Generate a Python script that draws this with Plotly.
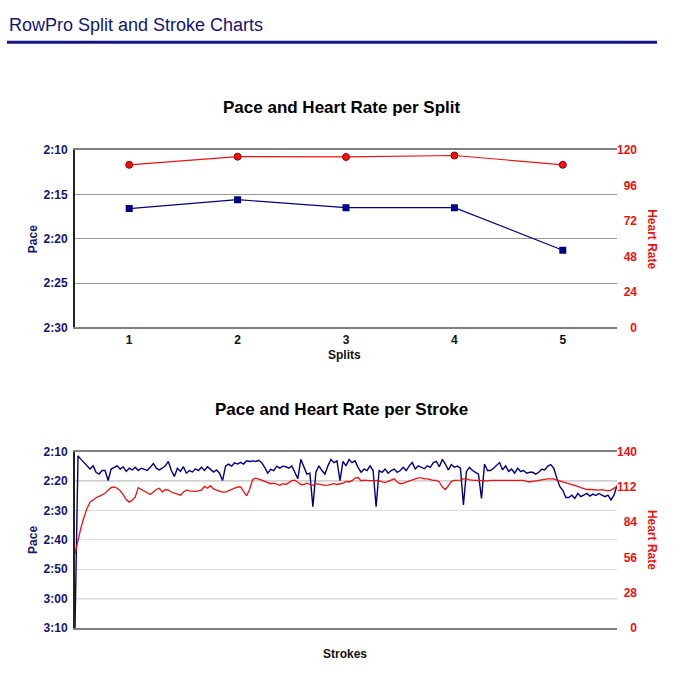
import plotly.graph_objects as go

# ---------------- data ----------------
splits = [1, 2, 3, 4, 5]
split_pace = [136.6, 135.6, 136.5, 136.5, 141.3]      # seconds per 500m
split_hr = [110, 115.5, 115.3, 116.3, 110]

pace_ticks_top = [130, 135, 140, 145, 150]
pace_labels_top = ["2:10", "2:15", "2:20", "2:25", "2:30"]
hr_ticks_top = [0, 24, 48, 72, 96, 120]

stroke_pace = [
    190, 131.4, 132.6, 133.7, 134.8, 135.9, 134.8, 137.0, 137.6, 136.4,
    136.4, 139.8, 135.9, 135.3, 134.8, 135.9, 135.1, 136.7, 135.6, 136.2,
    135.3, 136.4, 135.6, 136.0, 136.4, 135.3, 134.0, 135.6, 136.2, 135.6,
    134.8, 133.3, 136.4, 138.4, 135.6, 136.7, 135.1, 137.3, 136.4, 136.9,
    135.8, 136.4, 135.3, 136.4, 135.1, 136.0, 136.9, 136.2, 137.3, 139.8,
    134.9, 134.2, 134.9, 133.8, 134.2, 133.6, 134.2, 133.1, 133.3, 133.1,
    133.3, 132.9, 133.7, 135.3, 137.3, 136.0, 136.4, 134.9, 135.6, 134.9,
    135.1, 135.6, 134.8, 137.0, 139.2, 132.6, 135.3, 137.6, 137.3, 148.7,
    137.0, 134.8, 136.4, 137.6, 134.8, 132.6, 133.7, 133.1, 139.8, 133.3,
    134.8, 132.6, 133.7, 133.1, 135.3, 137.0, 135.9, 136.4, 134.8, 136.4,
    148.7, 136.4, 137.0, 135.9, 137.3, 136.4, 135.9, 137.0, 136.4, 135.3,
    136.4, 134.8, 133.7, 135.9, 134.8, 135.3, 135.8, 134.8, 135.3, 133.7,
    133.3, 135.1, 132.6, 134.2, 136.2, 134.4, 135.3, 134.9, 135.6, 148.1,
    136.7, 135.3, 136.4, 137.0, 137.6, 145.9, 134.2, 136.4, 136.4, 135.6,
    134.8, 133.7, 136.2, 134.8, 136.7, 135.9, 137.3, 135.6, 136.7, 136.4,
    137.3, 137.0, 137.0, 137.6, 137.0, 136.0, 136.2, 134.9, 134.4, 135.6,
    138.9, 141.8, 143.1, 145.6, 145.6, 144.8, 145.9, 144.2, 145.3, 144.8,
    144.2, 145.1, 144.4, 144.9, 144.2, 144.8, 145.3, 144.8, 146.4, 144.8,
    141.5,
]
stroke_hr = [
    59, 70, 80, 88, 95, 100, 102, 103.5, 104.5, 105.5,
    107, 109.5, 111.5, 112, 111, 109, 106, 102, 100, 101.5,
    104, 111.5, 110, 109, 107.5, 106, 108, 110, 111, 108,
    110, 109.5, 108, 107, 106, 105.5, 108, 109.5, 109, 108.5,
    108.5, 109, 109.5, 112.5, 111, 113, 110.5, 109.5, 108.5, 108,
    108, 109, 109.5, 111, 112, 112, 108, 105, 110, 118,
    119, 118.5, 117.5, 116.5, 115.5, 114.6, 115, 114, 113.3, 114.6,
    114, 115.5, 117, 117.5, 115.5, 114, 114, 115, 114, 113.3,
    114.6, 114, 113.5, 113.3, 113.5, 114.2, 114.6, 114, 114.6, 115,
    116.5, 116, 117, 119, 119.5, 117, 117.5, 117, 117, 117,
    117, 117, 116, 115.5, 116.5, 117.5, 118.5, 116, 114.6, 115,
    115.9, 117, 118, 119, 119.3, 119.3, 118.5, 118.5, 117.7, 117.2,
    117.2, 116, 112, 110, 113, 116.5, 117.2, 117.2, 117.5, 118.5,
    118.5, 117.7, 117.2, 117.2, 117.2, 117, 116.8, 116.8, 117.2, 117.2,
    117.2, 117.2, 117.2, 117.2, 117.2, 117.2, 117.2, 117.7, 117.2, 117.2,
    116.5, 116, 116.5, 117, 117.2, 117.5, 118, 118.5, 118.5, 118.5,
    117.5, 116.8, 116, 115.5, 115.1, 114.5, 113.3, 112.5, 111.5, 110.7,
    110, 110, 109.9, 109.5, 109.5, 109.9, 109.5, 108.9, 109.5, 111,
    112.5,
]
strokes = list(range(len(stroke_pace)))

pace_ticks_bottom = [130, 140, 150, 160, 170, 180, 190]
pace_labels_bottom = ["2:10", "2:20", "2:30", "2:40", "2:50", "3:00", "3:10"]
hr_ticks_bottom = [0, 28, 56, 84, 112, 140]
dark_grid_bottom = [140, 180]

# ---------------- style ----------------
W, H = 680, 686
NAVY = "#000080"
NAVY_TXT = "#14146e"
RED = "#ee1111"
FONT = "Liberation Sans, Arial, Helvetica, sans-serif"
FIG_SPACE = "\u2007"

def px_x(px):
    return px / W

def px_y(px):
    return 1 - px / H

def right_labels(vals):
    # right-align the labels by padding with figure spaces (digit width)
    return [str(v).rjust(3, FIG_SPACE) for v in vals]

xdom = [px_x(75), px_x(617)]
ydom_top = [px_y(327), px_y(146)]
ydom_bot = [px_y(634), px_y(454)]

fig = go.Figure()
fig.add_trace(go.Scatter(
    x=splits, y=split_pace, xaxis="x", yaxis="y", mode="lines+markers",
    line=dict(color=NAVY, width=1.2),
    marker=dict(symbol="square", size=7, color=NAVY)))
fig.add_trace(go.Scatter(
    x=splits, y=split_hr, xaxis="x", yaxis="y2", mode="lines+markers",
    line=dict(color=RED, width=1.2),
    marker=dict(symbol="circle", size=7, color=RED, line=dict(color="#990000", width=1))))
fig.add_trace(go.Scatter(
    x=strokes, y=stroke_pace, xaxis="x2", yaxis="y3", mode="lines",
    line=dict(color=NAVY, width=1.4)))
fig.add_trace(go.Scatter(
    x=strokes, y=stroke_hr, xaxis="x2", yaxis="y4", mode="lines",
    line=dict(color=RED, width=1.3)))

left_font = dict(family=FONT, size=12, color=NAVY_TXT, weight="bold")
right_font = dict(family=FONT, size=12, color=RED, weight="bold")

fig.update_layout(
    width=W, height=H, margin=dict(l=0, r=0, t=0, b=0),
    paper_bgcolor="white", plot_bgcolor="white", showlegend=False,
    font=dict(family=FONT),
    xaxis=dict(domain=xdom, anchor="y", range=[0.5, 5.5], tickvals=splits,
               showgrid=False, zeroline=False, showline=True, mirror=True,
               linecolor="#808080", linewidth=2, ticks="", ticklabelstandoff=0,
               tickfont=dict(family=FONT, size=12, color="#111111", weight="bold")),
    yaxis=dict(domain=ydom_top, anchor="x", range=[150, 130], tickvals=pace_ticks_top,
               ticktext=pace_labels_top, gridcolor="#999999", gridwidth=1, zeroline=False,
               showline=True, linecolor="#222222", linewidth=2, ticks="",
               ticklabelstandoff=3, tickfont=left_font),
    yaxis2=dict(overlaying="y", side="right", anchor="x", range=[0, 120],
                tickvals=hr_ticks_top, ticktext=right_labels(hr_ticks_top),
                showgrid=False, zeroline=False, showline=False,
                ticks="", ticklabelstandoff=-1, tickfont=right_font),
    xaxis2=dict(domain=xdom, anchor="y3", range=[0, len(stroke_pace) - 1],
                showticklabels=False, showgrid=False, zeroline=False, showline=True,
                mirror=True, linecolor="#808080", linewidth=2, ticks=""),
    yaxis3=dict(domain=ydom_bot, anchor="x2", range=[190, 130], tickvals=pace_ticks_bottom,
                ticktext=pace_labels_bottom, gridcolor="#dddddd", gridwidth=1, zeroline=False,
                showline=True, linecolor="#222222", linewidth=2, ticks="",
                ticklabelstandoff=3, tickfont=left_font),
    yaxis4=dict(overlaying="y3", side="right", anchor="x2", range=[0, 140],
                tickvals=hr_ticks_bottom, ticktext=right_labels(hr_ticks_bottom),
                showgrid=False, zeroline=False, showline=False,
                ticks="", ticklabelstandoff=-1, tickfont=right_font),
)

shapes = [dict(type="line", xref="paper", yref="paper", x0=px_x(7), x1=px_x(657),
               y0=px_y(36), y1=px_y(36), line=dict(color="#16168a", width=3))]
for v in dark_grid_bottom:
    shapes.append(dict(type="line", xref="x2 domain", yref="y3", x0=0, x1=1, y0=v, y1=v,
                       line=dict(color="#8a8a8a", width=1), layer="below"))
fig.update_layout(shapes=shapes)

def ann(text, x, y, size, color, bold=True, angle=0, xanchor="center"):
    return dict(text=text, x=px_x(x), y=px_y(y), xref="paper", yref="paper",
                showarrow=False, textangle=angle, xanchor=xanchor, yanchor="middle",
                font=dict(family=FONT, size=size, color=color,
                          weight="bold" if bold else "normal"))

fig.update_layout(annotations=[
    ann("RowPro Split and Stroke Charts", 7, 18, 18, "#141470", bold=False, xanchor="left"),
    ann("Pace and Heart Rate per Split", 341, 103, 17, "#000000"),
    ann("Pace and Heart Rate per Stroke", 341, 411, 17, "#000000"),
    ann("Pace", 33, 237, 12, NAVY_TXT, angle=-90),
    ann("Heart Rate", 652, 237, 12, RED, angle=90),
    ann("Splits", 344, 355, 12, "#111111"),
    ann("Pace", 33, 544, 12, NAVY_TXT, angle=-90),
    ann("Heart Rate", 652, 544, 12, RED, angle=90),
    ann("Strokes", 345, 660, 12, "#111111"),
])

fig.write_html("out.html", config={"displayModeBar": False},
               post_script="document.body.style.margin='0';")
